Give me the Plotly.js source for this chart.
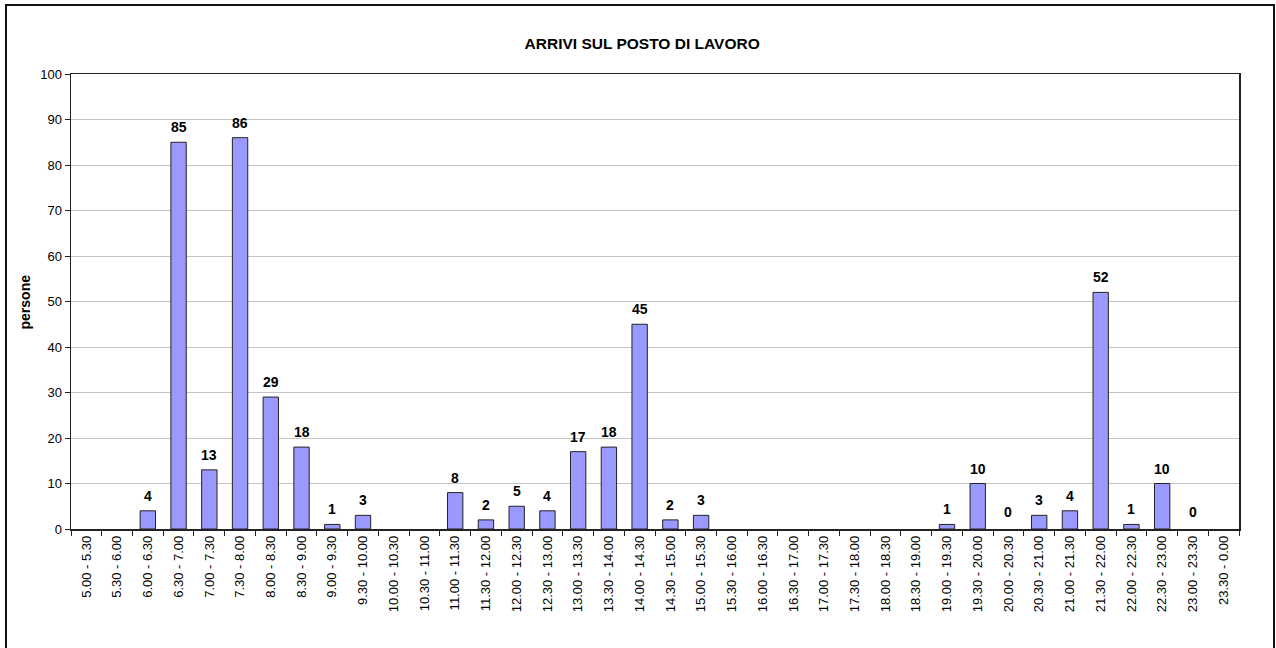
<!DOCTYPE html>
<html>
<head>
<meta charset="utf-8">
<script src="https://cdn.plot.ly/plotly-3.0.1.min.js"></script>
<style>
  html, body { margin: 0; padding: 0; background: #fff; overflow: hidden; }
  #wrap { position: relative; width: 1276px; height: 648px; }
  #chart { position: absolute; left: 0; top: 0; width: 1276px; height: 648px; }
  #frame { position: absolute; left: 5px; top: 4px; width: 1266px; height: 700px;
           border: 2px solid #111; border-bottom: none; pointer-events: none; }
</style>
</head>
<body>
<div id="wrap">
  <div id="chart"></div>
  <div id="frame"></div>
</div>
<script>
const categories = [
  "5.00 - 5.30","5.30 - 6.00","6.00 - 6.30","6.30 - 7.00","7.00 - 7.30","7.30 - 8.00",
  "8.00 - 8.30","8.30 - 9.00","9.00 - 9.30","9.30 - 10.00","10.00 - 10.30","10.30 - 11.00",
  "11.00 - 11.30","11.30 - 12.00","12.00 - 12.30","12.30 - 13.00","13.00 - 13.30","13.30 - 14.00",
  "14.00 - 14.30","14.30 - 15.00","15.00 - 15.30","15.30 - 16.00","16.00 - 16.30","16.30 - 17.00",
  "17.00 - 17.30","17.30 - 18.00","18.00 - 18.30","18.30 - 19.00","19.00 - 19.30","19.30 - 20.00",
  "20.00 - 20.30","20.30 - 21.00","21.00 - 21.30","21.30 - 22.00","22.00 - 22.30","22.30 - 23.00",
  "23.00 - 23.30","23.30 - 0.00"
];
const persone = [
  null, null, 4, 85, 13, 86,
  29, 18, 1, 3, null, null,
  8, 2, 5, 4, 17, 18,
  45, 2, 3, null, null, null,
  null, null, null, null, 1, 10,
  0, 3, 4, 52, 1, 10,
  0, null
];
const yTicks = [0,10,20,30,40,50,60,70,80,90,100];

const trace = {
  type: 'bar',
  x: categories,
  y: persone,
  width: 0.5,
  marker: {
    color: '#9999FF',
    line: { color: '#222', width: persone.map(v => (v ? 1 : 0)) }
  },
  hoverinfo: 'x+y'
};

const labels = [];
categories.forEach((c, i) => {
  const v = persone[i];
  if (v === null) return;
  labels.push({
    x: c, y: v, xref: 'x', yref: 'y',
    text: String(v), showarrow: false,
    yanchor: 'bottom', yshift: v === 0 ? 7 : 5,
    font: { family: 'Liberation Sans, Arial, sans-serif', size: 14, color: '#000', weight: 'bold' }
  });
});
labels.push({
  text: '<b>persone</b>', xref: 'paper', yref: 'paper',
  x: -0.0394, y: 0.5, xanchor: 'center', yanchor: 'middle',
  textangle: -90, showarrow: false,
  font: { family: 'Liberation Sans, Arial, sans-serif', size: 14, color: '#000' }
});

const layout = {
  width: 1276, height: 648,
  margin: { l: 71, r: 37, t: 74, b: 119 },
  paper_bgcolor: 'rgba(0,0,0,0)',
  plot_bgcolor: '#fff',
  showlegend: false,
  font: { family: 'Liberation Sans, Arial, sans-serif', size: 13, color: '#000' },
  title: {
    text: '<b>ARRIVI SUL POSTO DI LAVORO</b>',
    x: 0.489, xanchor: 'center', xref: 'paper',
    y: 0.933, yanchor: 'middle', yref: 'container',
    font: { family: 'Liberation Sans, Arial, sans-serif', size: 15.5, color: '#000' }
  },
  xaxis: {
    type: 'category',
    tickangle: -90,
    ticks: 'outside', ticklen: 5, tickcolor: '#222', tickwidth: 1,
    tickson: 'boundaries',
    showline: true, linecolor: '#222', linewidth: 1.5, mirror: true,
    showgrid: false,
    tickfont: { size: 13 },
    automargin: false
  },
  yaxis: {
    range: [0, 100],
    tickvals: yTicks,
    ticks: 'outside', ticklen: 5, tickcolor: '#222',
    showline: true, linecolor: '#222', linewidth: 1.5, mirror: true,
    showgrid: true, gridcolor: '#c4c4c4', gridwidth: 1,
    zeroline: false,
    tickfont: { size: 13 },
    automargin: false,
    fixedrange: true
  },
  annotations: labels,
  bargap: 0.5
};

Plotly.newPlot('chart', [trace], layout, { displayModeBar: false, staticPlot: true });
</script>
</body>
</html>
